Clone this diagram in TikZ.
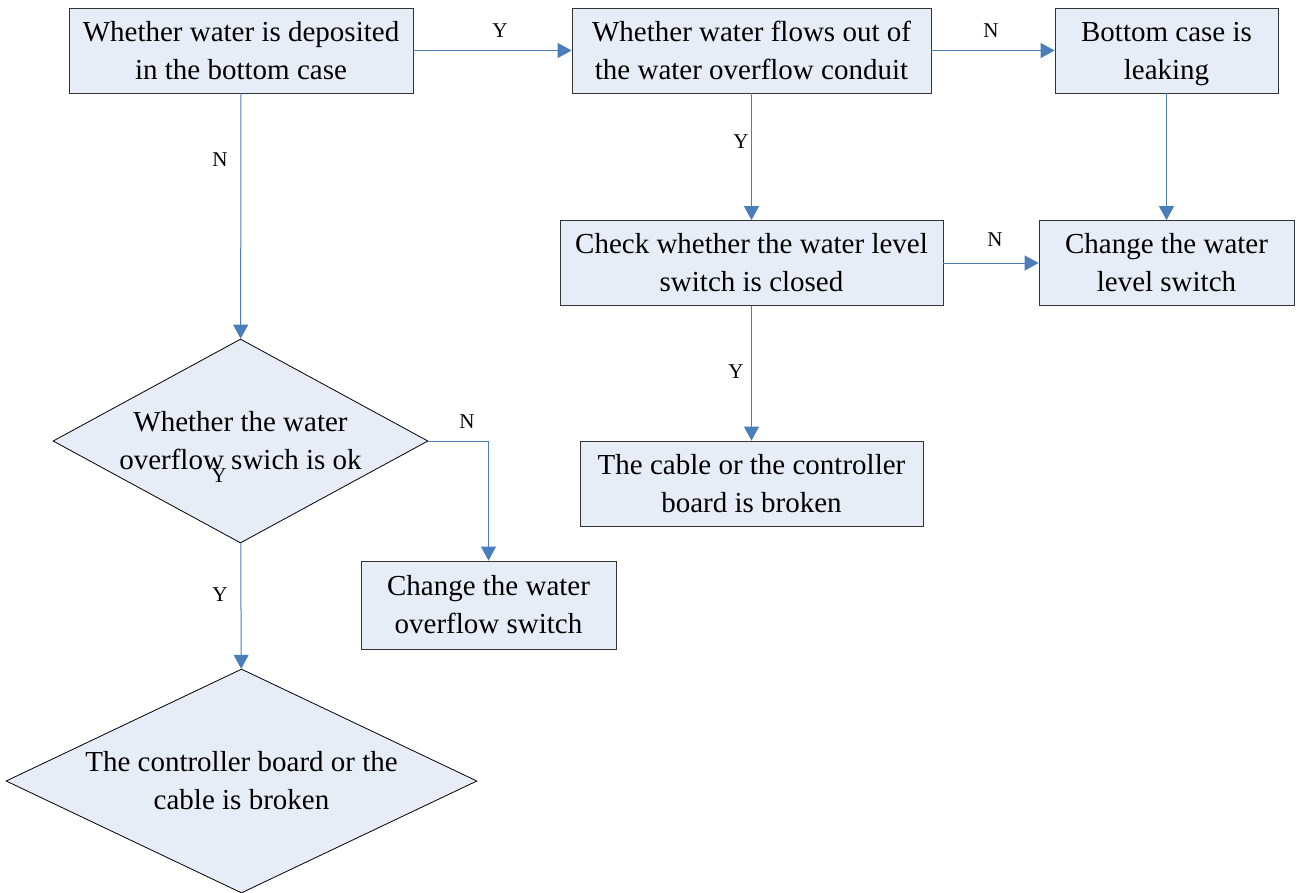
\documentclass[tikz,border=0pt]{standalone}
\usepackage{fontspec}
\setmainfont{Liberation Serif}
\usepackage{tikz}
\usetikzlibrary{arrows.meta,shapes.geometric,positioning}
\definecolor{boxfill}{HTML}{E7EDF7}
\definecolor{flow}{HTML}{4A7EBB}
\tikzset{
  box/.style={draw=black!80,fill=boxfill,line width=0.8pt,align=center,inner sep=0pt,minimum height=85pt,font=\fontsize{29}{38}\selectfont},
  dec/.style={diamond,draw=black,fill=boxfill,line width=0.8pt,align=center,inner sep=0pt,font=\fontsize{29}{38}\selectfont},
  flowarr/.style={flow,line width=1pt,-{Triangle[length=14pt,width=15pt]}},
  yn/.style={font=\fontsize{21}{24}\selectfont}
}
\begin{document}
\begin{tikzpicture}[x=1pt,y=-1pt]
\useasboundingbox (0,0) rectangle (1297,892);
% boxes
\node[box,minimum width=344pt] (deposit) at (241,50.5) {Whether water is deposited\\in the bottom case};
\node[box,minimum width=359pt] (conduit) at (751.5,50.5) {Whether water flows out of\\the water overflow conduit};
\node[box,minimum width=223pt] (leak) at (1166.5,50.5) {Bottom case is\\\raisebox{0pt}[\height][0pt]{leaking}};
\node[box,minimum width=383pt] (closed) at (751.5,263) {Check whether the water level\\switch is closed};
\node[box,minimum width=255pt] (level) at (1166.5,263) {Change the water\\level switch};
\node[box,minimum width=343pt] (cable) at (751.5,483.5) {The cable or the controller\\board is broken};
\node[box,minimum width=255pt,minimum height=88pt] (ovswitch) at (488.5,605) {Change the water\\overflow switch};
% decisions
\node[dec,aspect=1.84,minimum width=375pt,minimum height=204pt] (swok) at (240.5,441) {Whether the water\\overflow swich is ok};
\node[dec,aspect=2.1,minimum width=471pt,minimum height=224pt] (board) at (241.5,781) {The controller board or the\\cable is broken};
% connectors
\draw[flowarr] (deposit) -- (conduit);
\draw[flowarr] (conduit) -- (leak);
\draw[flowarr] (conduit) -- (closed);
\draw[flowarr] (leak) -- (level);
\draw[flowarr] (closed) -- (level);
\draw[flowarr] (closed) -- (cable);
\draw[flowarr] (deposit) -- (swok);
\draw[flowarr] (swok.east) -| (ovswitch.north);
\draw[flowarr] (swok) -- (board);
% labels
\node[yn] (y1) at (500,31) {Y};
\node[yn] (n1) at (991,31) {N};
\node[yn] (y2) at (741,142) {Y};
\node[yn] (n2) at (995,240) {N};
\node[yn] (y3) at (736,372) {Y};
\node[yn] (n3) at (220,160) {N};
\node[yn] (n4) at (467,422) {N};
\node[yn] (y4) at (220,595) {Y};
\node[yn] (y5) at (219,476) {Y};
\end{tikzpicture}
\end{document}
